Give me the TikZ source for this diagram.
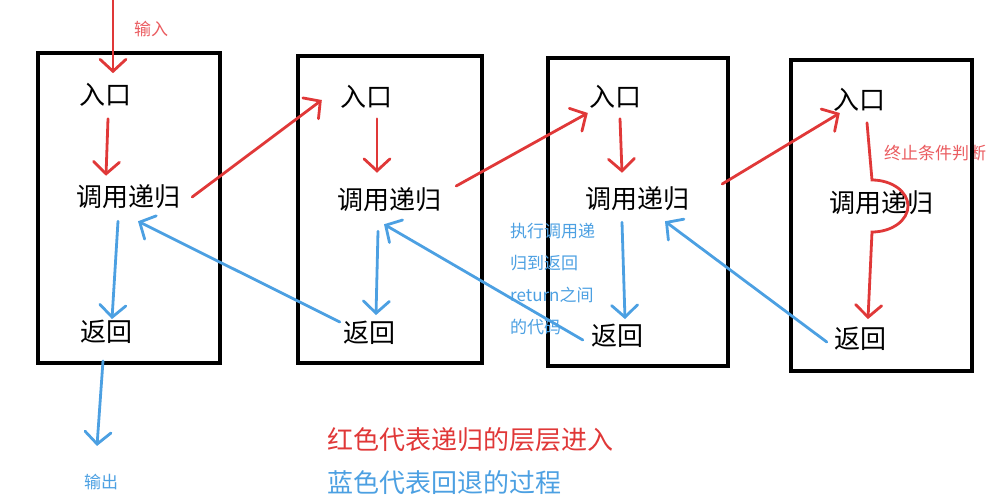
\documentclass[tikz,border=0pt]{standalone}
\usepackage{fontspec}
\setmainfont{Noto Sans CJK SC}
\usetikzlibrary{arrows.meta}
\definecolor{penred}{RGB}{224,56,56}
\definecolor{penblue}{RGB}{76,160,226}
\definecolor{notered}{RGB}{234,92,96}

\tikzset{
  frame/.style={line width=4.5pt, black},
  word/.style={inner sep=0pt, font=\fontsize{26}{30}\selectfont},
  note/.style={inner sep=0pt, font=\fontsize{17}{20}\selectfont},
  legend/.style={inner sep=0pt, font=\fontsize{26}{30}\selectfont},
  redgo/.style={draw=penred, line width=2.8pt, line cap=round,
    -{Straight Barb[length=12pt,width=26pt,line cap=round]}},
  blueback/.style={draw=penblue, line width=2.8pt, line cap=round,
    -{Straight Barb[length=12pt,width=26pt,line cap=round]}},
}

\begin{document}
\begin{tikzpicture}[x=1pt,y=-1pt]
\useasboundingbox (0,0) rectangle (998,498);

% label that runs under the last box
\node[note, text=notered, anchor=west] (stopnote) at (884,153) {终止条件判断};

% the four call frames
\draw[frame] (38,53) rectangle (220,363);
\draw[frame] (298,56) rectangle (482,363);
\draw[frame] (548,58) rectangle (728,366);
\draw[frame] (791,60) rectangle (972,371);

% frame 1
\node[word] (in1) at (105,95) {入口};
\node[word] (call1) at (128,197) {调用递归};
\node[word] (ret1) at (106,332) {返回};
% frame 2
\node[word] (in2) at (366,97) {入口};
\node[word] (call2) at (389,200) {调用递归};
\node[word] (ret2) at (369,333) {返回};
% frame 3
\node[word] (in3) at (615,97) {入口};
\node[word] (call3) at (637,199) {调用递归};
\node[word] (ret3) at (617,336) {返回};
% frame 4
\node[word] (in4) at (859,100) {入口};
\node[word] (call4) at (881,203) {调用递归};
\node[word] (ret4) at (860,339) {返回};

% input and output
\coordinate (inputtop) at (113,0);
\node[note, text=notered] (inlabel) at (151,29) {输入};
\node[note, text=penblue] (out) at (101,482) {输出};

% red: going in
\draw[redgo] (inputtop) -- ([xshift=8pt,yshift=10pt]in1.north);
\draw[redgo] ([xshift=3pt,yshift=-12pt]in1.south) -- ([xshift=-22pt,yshift=9pt]call1.north);
\draw[redgo] ([xshift=12pt]call1.east) -- ([xshift=-18pt,yshift=-3pt]in2.west);
\draw[redgo] ([xshift=11pt,yshift=-10pt]in2.south) -- ([xshift=-12pt,yshift=15pt]call2.north);
\draw[redgo] ([xshift=15pt,yshift=14pt]call2.east) -- ([xshift=-1pt,yshift=-16pt]in3.west);
\draw[redgo] ([xshift=5pt,yshift=-10pt]in3.south) -- ([xshift=-15pt,yshift=14pt]call3.north);
\draw[redgo] ([xshift=33pt,yshift=15pt]call3.east) -- ([xshift=7pt,yshift=-13pt]in4.west);
\draw[redgo] ([xshift=8pt,yshift=-11pt]in4.south) -- ([xshift=-9pt,yshift=23pt]call4.center)
  arc[start angle=90, end angle=-90, x radius=36pt, y radius=26pt]
  -- ([xshift=8pt,yshift=8pt]ret4.north);

% blue: coming back
\draw[blueback] ([xshift=-10pt,yshift=-12pt]call1.south) -- ([xshift=6pt,yshift=1pt]ret1.north);
\draw[blueback] ([xshift=-3pt,yshift=-17pt]ret1.south) -- ([xshift=-4pt,yshift=28pt]out.north);
\draw[blueback] ([xshift=-3pt,yshift=11pt]ret2.west) -- ([xshift=10pt,yshift=-12pt]call1.south);
\draw[blueback] ([xshift=-11pt,yshift=-19pt]call2.south) -- ([xshift=7pt,yshift=6pt]ret2.north);
\draw[blueback] ([xshift=-8pt,yshift=-4pt]ret3.west) -- ([xshift=-5pt,yshift=-12pt]call2.south);
\draw[blueback] ([xshift=-15pt,yshift=-11pt]call3.south) -- ([xshift=8pt,yshift=5pt]ret3.north);
\draw[blueback] ([xshift=-7pt,yshift=-3pt]ret4.west) -- ([xshift=28pt,yshift=-10pt]call3.south);

% note beside frame 3
\node[inner sep=0pt, text=penblue, align=left, anchor=west,
  font=\fontsize{17}{32}\selectfont] (backnote) at (510,279)
  {执行调用递\\归到返回\\return之间\\的代码};

% legend
\node[legend, text=penred, anchor=west] (redkey) at (327,440) {红色代表递归的层层进入};
\node[legend, text=penblue, anchor=west] (bluekey) at (327,483) {蓝色代表回退的过程};
\end{tikzpicture}
\end{document}
